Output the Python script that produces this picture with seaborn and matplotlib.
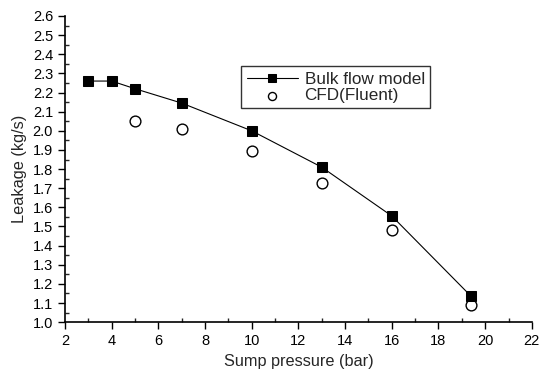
import pandas as pd
import seaborn as sns
import matplotlib
matplotlib.use("Agg")
import matplotlib.pyplot as plt
from matplotlib.ticker import MultipleLocator

# Data
bulk_pressure = [3, 4, 5, 7, 10, 13, 16, 19.4]
bulk_leakage = [2.26, 2.26, 2.22, 2.145, 2.0, 1.81, 1.555, 1.135]
cfd_pressure = [5, 7, 10, 13, 16, 19.4]
cfd_leakage = [2.05, 2.01, 1.895, 1.725, 1.48, 1.09]

bulk = pd.DataFrame({"p": bulk_pressure, "q": bulk_leakage})
cfd = pd.DataFrame({"p": cfd_pressure, "q": cfd_leakage})

sns.set_style("ticks")
plt.rcParams["font.family"] = ["Liberation Sans", "DejaVu Sans"]

fig = plt.figure(figsize=(5.5, 3.72), dpi=100)
ax = fig.add_axes([0.118, 0.134, 0.849, 0.823])

sns.lineplot(data=bulk, x="p", y="q", ax=ax, color="black", linewidth=0.8,
             marker="s", markersize=7.5, markeredgecolor="black",
             label="Bulk flow model")
sns.scatterplot(data=cfd, x="p", y="q", ax=ax, marker="o", s=60,
                facecolor="white", edgecolor="black", linewidth=1.0,
                label="CFD(Fluent)")

ax.set_xlim(2, 22)
ax.set_ylim(1.0, 2.6)
ax.xaxis.set_major_locator(MultipleLocator(2))
ax.xaxis.set_minor_locator(MultipleLocator(1))
ax.yaxis.set_major_locator(MultipleLocator(0.1))
ax.yaxis.set_minor_locator(MultipleLocator(0.05))
ax.yaxis.set_major_formatter(matplotlib.ticker.FormatStrFormatter("%.1f"))

ax.tick_params(which="major", direction="out", length=5, width=1,
               labelsize=10.5, colors="black")
ax.tick_params(which="minor", direction="in", length=3, width=1)

sns.despine(ax=ax)
for side in ["left", "bottom"]:
    ax.spines[side].set_linewidth(1.2)
    ax.spines[side].set_color("black")

ax.set_xlabel("Sump pressure (bar)", fontsize=11.7)
ax.set_ylabel("Leakage (kg/s)", fontsize=11.7)

leg = ax.legend(loc="upper left", bbox_to_anchor=(0.367, 0.852),
                frameon=True, fancybox=False, fontsize=12.3,
                borderpad=0.3, handlelength=3.0, handletextpad=0.4,
                labelspacing=0.1, markerscale=0.75, borderaxespad=0.3)
leg.get_frame().set_edgecolor("black")
leg.get_frame().set_linewidth(1.0)

fig.savefig("out.png", dpi=100)
